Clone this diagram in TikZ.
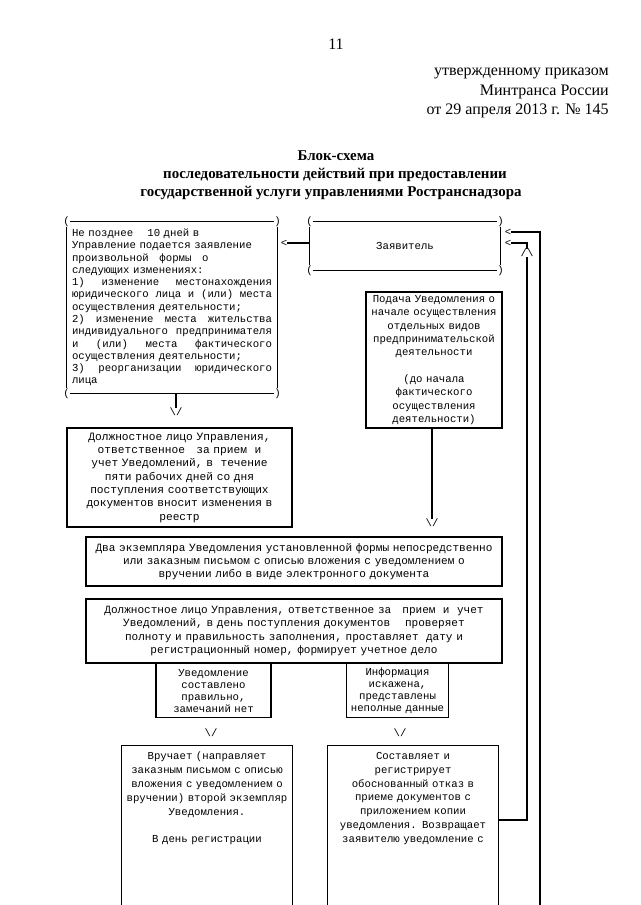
\documentclass[tikz,border=0pt]{standalone}
\usepackage{fontspec}
\setmainfont{Liberation Serif}
\newfontfamily\mono{Liberation Mono}
\usetikzlibrary{calc}

\newcommand\jl[1]{\leavevmode\hbox to\hsize{#1}}
\newcommand\brk[1]{%
  \node[glyph] (#1-p1) at (#1.north west) {(};
  \node[glyph] (#1-p2) at (#1.north east) {)};
  \node[glyph] (#1-p3) at (#1.south west) {(};
  \node[glyph] (#1-p4) at (#1.south east) {)};
  \draw[line] (#1-p1.east) -- (#1-p2.west);
  \draw[line] (#1-p3.east) -- (#1-p4.west);
  \draw[line] (#1-p1.south) -- (#1-p3.north);
  \draw[line] (#1-p2.south) -- (#1-p4.north);
}

\tikzset{
  blk/.style={draw,line width=.8pt,align=center,inner sep=1pt,font=\mono\fontsize{#1}{10}\selectfont},
  blk/.default=8,
  glyph/.style={font=\mono\fontsize{8}{9}\selectfont,inner sep=0pt},
  line/.style={line width=.8pt},
  hdr/.style={font=\fontsize{12}{14}\selectfont,inner sep=0pt},
  ttl/.style={font=\bfseries\fontsize{11.2}{14}\selectfont,inner sep=0pt},
}

\begin{document}
\begin{tikzpicture}[x=.75pt,y=-.75pt]
\useasboundingbox (0,0) rectangle (640,905);
\fill[white] (0,0) rectangle (640,905);

\node[hdr,anchor=base] (pnum) at (336,50) {11};
\node[hdr,anchor=base east] (hdr1) at (609,76) {утвержденному приказом};
\node[hdr,anchor=base east] (hdr2) at (609,96) {Минтранса России};
\node[hdr,anchor=base east] (hdr3) at (609,115) {от 29 апреля 2013 г. № 145};
\node[ttl,anchor=base] (ttl1) at (336,161) {Блок-схема};
\node[ttl,anchor=base] (ttl2) at (335,179) {последовательности действий при предоставлении};
\node[ttl,anchor=base] (ttl3) at (331,197) {государственной услуги управлениями Ространснадзора};

\node[blk,draw=none,align=left,font=\mono\fontsize{8}{9.2}\selectfont,text width=150pt,minimum width=157.5pt,minimum height=128.25pt] (izm) at (172,307.5) {%
Не позднее\ \ \ \ 10 дней в\\
Управление подается заявление\\
произвольной\ \ \ формы\ \ \ о\\
следующих изменениях:\\
\jl{1)\hfill изменение\hfill местонахождения}\\
\jl{юридического\hfill лица\hfill и\hfill (или)\hfill места}\\
осуществления деятельности;\\
\jl{2)\hfill изменение\hfill места\hfill жительства}\\
\jl{индивидуального\hfill предпринимателя}\\
\jl{и\hfill (или)\hfill места\hfill фактического}\\
осуществления деятельности;\\
\jl{3)\hfill реорганизации\hfill юридического}\\
лица};
\brk{izm}

\node[blk,draw=none,minimum width=142.5pt,minimum height=36pt] (zayav) at (405,246) {Заявитель};
\brk{zayav}

\node[glyph] (lt0) at (284,243) {<};
\draw[line] (zayav.west |- lt0) -- (lt0.east);

\node[blk,text width=98pt,minimum width=102pt,minimum height=102pt] (podacha) at (434,360) {%
Подача Уведомления о\\
начале осуществления\\
отдельных видов\\
предпринимательской\\
деятельности\\[10pt]
(до начала\\
фактического\\
осуществления\\
деятельности)};

\node[glyph] (dv1) at (176,412) {\textbackslash/};
\draw[line] (izm.south -| dv1) -- (dv1.north);

\node[blk=8.4,text width=162pt,minimum width=168.75pt,minimum height=74.25pt] (reestr) at (179.5,477.5) {%
Должностное лицо Управления,\\
ответственное\ \ \ за прием\ \ и\\
учет Уведомлений, в\ \ течение\\
пяти рабочих дней со дня\\
поступления соответствующих\\
документов вносит изменения в\\
реестр};

\node[glyph] (dv2) at (432,523) {\textbackslash/};
\draw[line] (podacha.south -| dv2) -- (dv2.north);

\node[blk=8.3,text width=310pt,minimum width=312pt,minimum height=36.75pt] (dva) at (294,561.5) {%
Два экземпляра Уведомления установленной формы непосредственно\\
или заказным письмом с описью вложения с уведомлением о\\
вручении либо в виде электронного документа};

\node[blk=8.3,text width=310pt,minimum width=312pt,minimum height=48pt] (uchet) at (294,631) {%
Должностное лицо Управления, ответственное за\ \ \ прием\ \ и\ \ учет\\
Уведомлений, в день поступления документов\ \ \ \ проверяет\\
полноту и правильность заполнения, проставляет\ \ дату и\\
регистрационный номер, формирует учетное дело};

\node[blk,anchor=north,font=\mono\fontsize{8}{9}\selectfont,text width=84pt,minimum width=86.25pt,minimum height=40.5pt] (prav) at (213.5,663) {%
Уведомление\\
составлено\\
правильно,\\
замечаний нет};

\node[blk,anchor=north,font=\mono\fontsize{8}{9}\selectfont,text width=74pt,minimum width=75.75pt,minimum height=40.5pt] (iskaz) at (397.5,663) {%
Информация\\
искажена,\\
представлены\\
неполные данные};

\node[glyph] (dv3) at (211,733) {\textbackslash/};
\node[glyph] (dv4) at (400,733) {\textbackslash/};

\node[glyph] (lt1) at (508,232) {<};
\node[glyph] (lt2) at (508,243) {<};
\node[glyph] (up1) at (527,253) {/\textbackslash};
\draw[line] (lt2.east) -| (up1.north);

\begin{scope}
\clip (0,0) rectangle (640,905);
\node[blk,anchor=north,font=\mono\fontsize{8}{10.4}\selectfont,inner ysep=5pt,text width=126pt,minimum width=127.5pt] (vruch) at (207,745) {%
Вручает (направляет\\
заказным письмом с описью\\
вложения с уведомлением о\\
вручении) второй экземпляр\\
Уведомления.\\[10pt]
В день регистрации\\[60pt]
~};
\node[blk,anchor=north,font=\mono\fontsize{8}{10.4}\selectfont,inner ysep=5pt,text width=126pt,minimum width=127.5pt] (otkaz) at (413,745) {%
Составляет и\\
регистрирует\\
обоснованный отказ в\\
приеме документов с\\
приложением копии\\
уведомления. Возвращает\\
заявителю уведомление с\\[60pt]
~};
\coordinate (outbot) at (540,920);
\coordinate (y820) at (0,820);
\draw[line] (lt1.east) -| (outbot);
\draw[line] (up1.south) |- (otkaz.east |- y820);
\end{scope}
\end{tikzpicture}
\end{document}
